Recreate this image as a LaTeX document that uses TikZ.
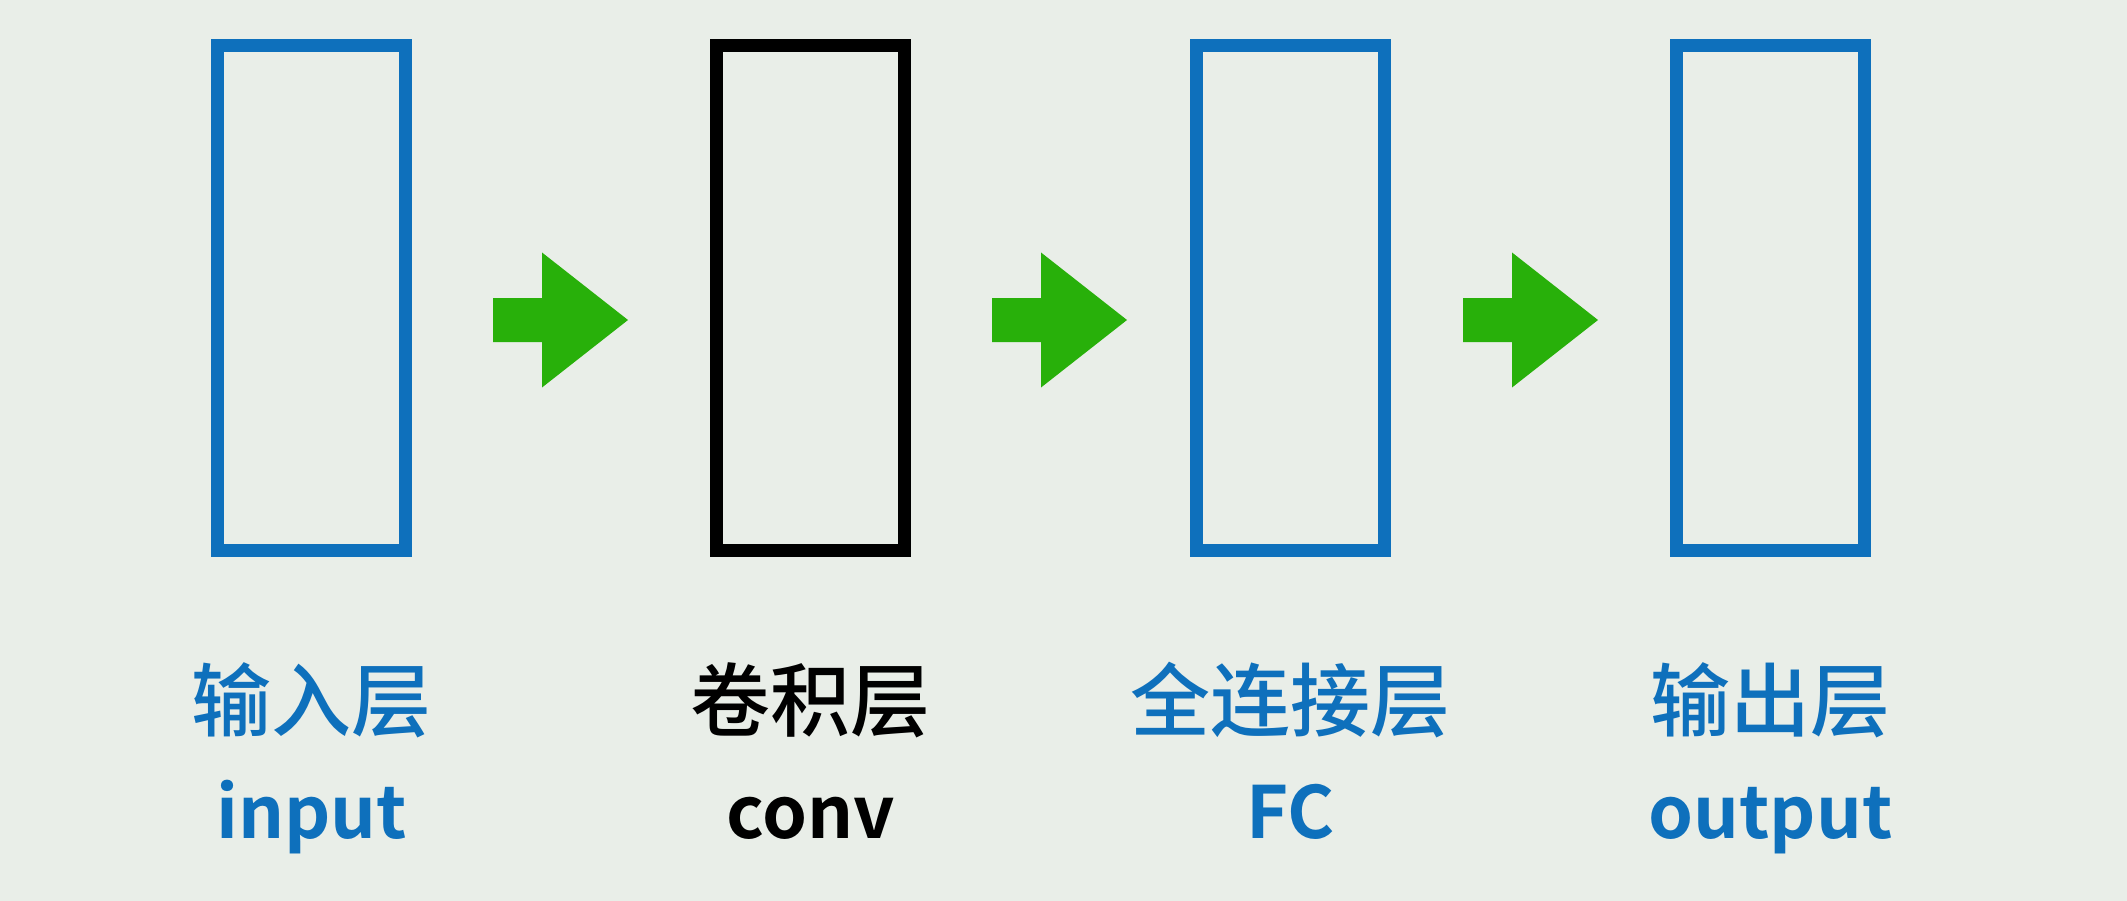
\documentclass[tikz,border=0pt]{standalone}
\usepackage{fontspec}
\newfontfamily\cjk{Noto Sans CJK SC}[BoldFont={Noto Sans CJK SC Medium}]
\newfontfamily\cjkb{Noto Sans CJK SC Bold}
\definecolor{bgc}{RGB}{233,238,232}
\definecolor{lblue}{RGB}{14,112,188}
\definecolor{agreen}{RGB}{40,176,10}
\tikzset{
  layerbox/.style={draw=lblue, line width=13pt, minimum width=188pt, minimum height=504pt, inner sep=0pt, fill=none},
  cnlabel/.style={anchor=base, inner sep=0pt, font=\cjk\bfseries\fontsize{80}{96}\selectfont},
  enlabel/.style={anchor=base, inner sep=0pt, font=\cjkb\fontsize{72}{90}\selectfont},
}
\begin{document}
\begin{tikzpicture}[x=1pt,y=-1pt]
\useasboundingbox (0,0) rectangle (2127,901);
\fill[bgc] (0,0) rectangle (2127,901);
% boxes
\node[layerbox] (b1) at (311.5,298) {};
\node[layerbox, draw=black] (b2) at (810.5,298) {};
\node[layerbox] (b3) at (1290.5,298) {};
\node[layerbox] (b4) at (1770.5,298) {};
% arrows
\coordinate (a1) at (493,320);
\coordinate (a2) at (992,320);
\coordinate (a3) at (1463,320);
\foreach \c in {a1,a2,a3}{
  \fill[agreen] (\c) ++(0,-22) -- ++(49,0) -- ++(0,-45.5) -- ++(86,67.5) -- ++(-86,67.5) -- ++(0,-45.5) -- ++(-49,0) -- cycle;
}
% labels
\node[cnlabel, text=lblue] (t1) at (311.5,730) {输入层};
\node[cnlabel, text=black] (t2) at (810.5,730) {卷积层};
\node[cnlabel, text=lblue] (t3) at (1290.5,730) {全连接层};
\node[cnlabel, text=lblue] (t4) at (1770.5,730) {输出层};
\node[enlabel, text=lblue] (e1) at (311.5,838) {input};
\node[enlabel, text=black] (e2) at (810.5,838) {conv};
\node[enlabel, text=lblue] (e3) at (1290.5,838) {FC};
\node[enlabel, text=lblue] (e4) at (1770.5,838) {output};
\end{tikzpicture}
\end{document}
